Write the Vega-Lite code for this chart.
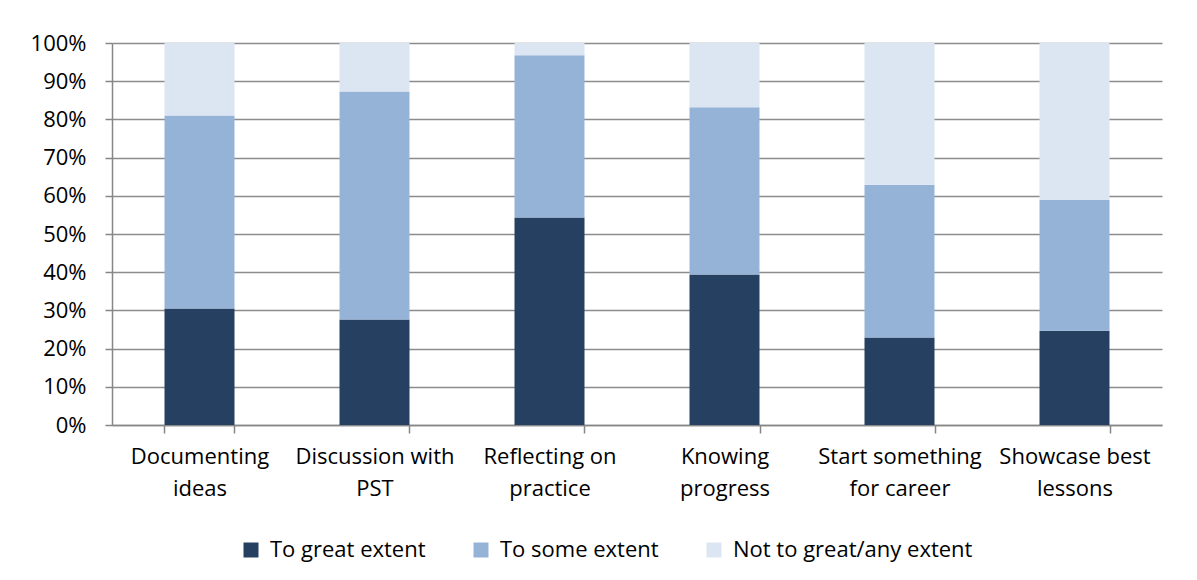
{
  "$schema": "https://vega.github.io/schema/vega-lite/v6.json",
  "width": 1050,
  "height": 382,
  "autosize": {"type": "none"},
  "padding": {"left": 112, "top": 43, "right": 35, "bottom": 155},
  "background": "white",
  "data": {
    "values": [
      {"cat": "Documenting|ideas", "resp": "To great extent", "rank": 1, "v": 0.305},
      {"cat": "Documenting|ideas", "resp": "To some extent", "rank": 2, "v": 0.505},
      {"cat": "Documenting|ideas", "resp": "Not to great/any extent", "rank": 3, "v": 0.190},
      {"cat": "Discussion with|PST", "resp": "To great extent", "rank": 1, "v": 0.276},
      {"cat": "Discussion with|PST", "resp": "To some extent", "rank": 2, "v": 0.597},
      {"cat": "Discussion with|PST", "resp": "Not to great/any extent", "rank": 3, "v": 0.127},
      {"cat": "Reflecting on|practice", "resp": "To great extent", "rank": 1, "v": 0.543},
      {"cat": "Reflecting on|practice", "resp": "To some extent", "rank": 2, "v": 0.425},
      {"cat": "Reflecting on|practice", "resp": "Not to great/any extent", "rank": 3, "v": 0.032},
      {"cat": "Knowing|progress", "resp": "To great extent", "rank": 1, "v": 0.394},
      {"cat": "Knowing|progress", "resp": "To some extent", "rank": 2, "v": 0.438},
      {"cat": "Knowing|progress", "resp": "Not to great/any extent", "rank": 3, "v": 0.168},
      {"cat": "Start something|for career", "resp": "To great extent", "rank": 1, "v": 0.229},
      {"cat": "Start something|for career", "resp": "To some extent", "rank": 2, "v": 0.400},
      {"cat": "Start something|for career", "resp": "Not to great/any extent", "rank": 3, "v": 0.371},
      {"cat": "Showcase best|lessons", "resp": "To great extent", "rank": 1, "v": 0.247},
      {"cat": "Showcase best|lessons", "resp": "To some extent", "rank": 2, "v": 0.342},
      {"cat": "Showcase best|lessons", "resp": "Not to great/any extent", "rank": 3, "v": 0.411}
    ]
  },
  "mark": {"type": "bar"},
  "encoding": {
    "x": {
      "field": "cat",
      "type": "nominal",
      "sort": null,
      "scale": {"paddingInner": 0.6, "paddingOuter": 0.3},
      "axis": {
        "title": null,
        "labelAngle": 0,
        "labelExpr": "split(datum.label, '|')",
        "labelFont": "Open Sans",
        "labelFontSize": 22,
        "labelColor": "#000000",
        "labelLineHeight": 32,
        "labelPadding": 13,
        "labelLimit": 250,
        "labelOverlap": false,
        "tickBand": "extent",
        "tickSize": 8,
        "tickColor": "#868686",
        "domainColor": "#868686",
        "domainWidth": 1.5,
        "tickWidth": 1.5
      }
    },
    "y": {
      "field": "v",
      "type": "quantitative",
      "stack": "zero",
      "scale": {"domain": [0, 1], "nice": false},
      "axis": {
        "title": null,
        "values": [0, 0.1, 0.2, 0.3, 0.4, 0.5, 0.6, 0.7, 0.8, 0.9, 1],
        "format": ".0%",
        "labelFont": "Open Sans",
        "labelFontSize": 22,
        "labelColor": "#000000",
        "labelPadding": 19,
        "tickSize": 7,
        "tickColor": "#868686",
        "tickWidth": 1.5,
        "domainColor": "#868686",
        "domainWidth": 1.5,
        "grid": true,
        "gridColor": "#8c8c8c",
        "gridWidth": 1.5
      }
    },
    "color": {
      "field": "resp",
      "type": "nominal",
      "sort": ["To great extent", "To some extent", "Not to great/any extent"],
      "scale": {
        "domain": ["To great extent", "To some extent", "Not to great/any extent"],
        "range": ["#254061", "#95b3d7", "#dce6f2"]
      },
      "legend": {
        "title": null,
        "orient": "none",
        "direction": "horizontal",
        "legendX": 128,
        "legendY": 496,
        "symbolType": "square",
        "symbolSize": 225,
        "symbolStrokeWidth": 0,
        "labelFont": "Open Sans",
        "labelFontSize": 22,
        "labelColor": "#000000",
        "columnPadding": 44,
        "labelOffset": 8,
        "labelLimit": 400
      }
    },
    "order": {"field": "rank", "type": "quantitative"}
  },
  "config": {
    "view": {"stroke": null}
  }
}
